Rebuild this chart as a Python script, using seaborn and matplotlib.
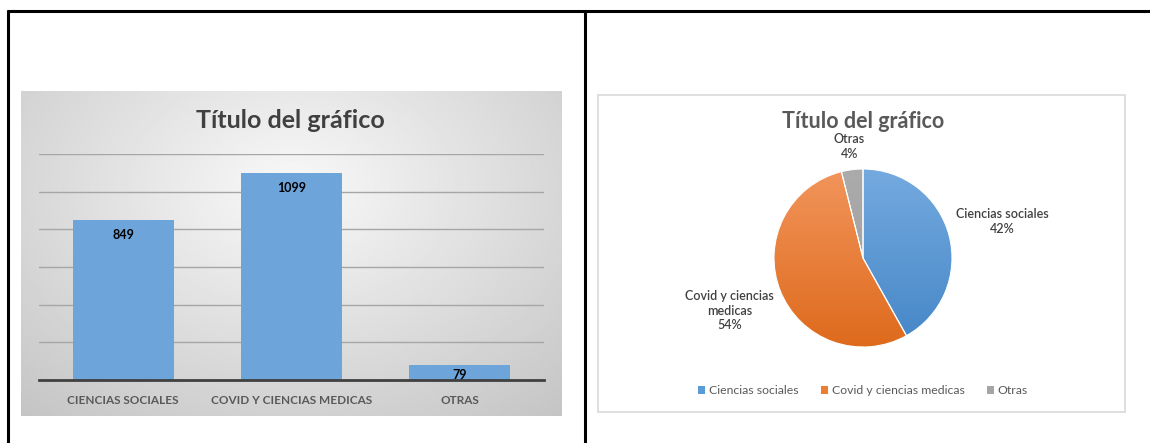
import numpy as np
import matplotlib
matplotlib.use("Agg")
import matplotlib.pyplot as plt
import seaborn as sns
import pandas as pd
from matplotlib.colors import LinearSegmentedColormap
from matplotlib.patches import Patch, Rectangle

# datos
categorias = ["CIENCIAS SOCIALES", "COVID Y CIENCIAS MEDICAS", "OTRAS"]
valores = [849, 1099, 79]
etiquetas_pie = ["Ciencias sociales", "Covid y ciencias\nmedicas", "Otras"]
leyenda_pie = ["Ciencias sociales", "Covid y ciencias medicas", "Otras"]
titulo = "Título del gráfico"
y_ticks = [200, 400, 600, 800, 1000, 1200]

colores = ["#5B9BD5", "#ED7D31", "#A5A5A5"]
gradientes = [("#74AADF", "#4586C7"), ("#F2955C", "#DE6A1C"), ("#ABABAB", "#9C9C9C")]

sns.set_theme(style="white")
plt.rcParams["font.family"] = ["Lato", "DejaVu Sans"]

W, H = 1150, 443
fig = plt.figure(figsize=(W / 100, H / 100), dpi=100)


def rect(x0, y0, x1, y1):
    return [x0 / W, 1 - y1 / H, (x1 - x0) / W, (y1 - y0) / H]


# marco de la tabla
frame = fig.add_axes([0, 0, 1, 1], zorder=-2)
frame.set_xlim(0, W)
frame.set_ylim(H, 0)
frame.axis("off")
frame.plot([7, W], [11, 11], color="black", lw=2.2, solid_capstyle="butt")
frame.plot([8, 8], [10, H], color="black", lw=2.2, solid_capstyle="butt")
frame.plot([585, 585], [10, H], color="black", lw=2.2, solid_capstyle="butt")
frame.add_patch(Rectangle((598, 95), 527, 317, facecolor="white", edgecolor="#dcdcdc", lw=1.3))

# fondo degradado del grafico de barras
bg = fig.add_axes(rect(21, 91, 562, 416), zorder=-1)
yy, xx = np.mgrid[0:1:200j, 0:1:300j]
d = np.sqrt(((xx - 0.5) / 0.75) ** 2 + ((yy - 0.3) / 0.9) ** 2)
bg.imshow(0.975 - 0.2 * np.clip(d, 0, 1.1), cmap="gray", vmin=0, vmax=1, aspect="auto")
bg.axis("off")

# barras
ax = fig.add_axes(rect(39, 154, 544, 380))
df = pd.DataFrame({"categoria": categorias, "valor": valores})
sns.barplot(data=df, x="categoria", y="valor", color="#6DA5DB", width=0.6, saturation=1,
            linewidth=0, ax=ax)
ax.set_ylim(0, 1200)
ax.set_xlim(-0.5, 2.5)
ax.patch.set_alpha(0)
ax.set_yticks(y_ticks)
ax.set_yticklabels([])
ax.yaxis.grid(True, color="#a6a6a6", lw=1)
ax.set_axisbelow(True)
for s in ["top", "right", "left"]:
    ax.spines[s].set_visible(False)
ax.spines["bottom"].set_color("#404040")
ax.spines["bottom"].set_linewidth(2)
ax.tick_params(axis="x", length=0, pad=11, labelsize=8.5, labelcolor="#595959")
ax.tick_params(axis="y", length=0)
ax.set_xlabel("")
ax.set_ylabel("")
for lbl in ax.get_xticklabels():
    lbl.set_fontweight("bold")

for i, v in enumerate(valores):
    ax.text(i, max(v - 80, 27), str(v), ha="center", va="center",
            fontsize=9, fontweight="bold", color="black")

fig.text(290 / W, 1 - 120 / H, titulo, ha="center", va="center",
         fontsize=18, fontweight="bold", color="#404040")

# pastel
pax = fig.add_axes(rect(774, 169, 952, 347))
wedges, _ = pax.pie(valores, startangle=90, counterclock=False, colors=colores,
                    wedgeprops=dict(edgecolor="white", linewidth=0.8))
grad = np.linspace(0, 1, 256).reshape(-1, 1)
for w, (c0, c1) in zip(wedges, gradientes):
    cmap = LinearSegmentedColormap.from_list("g", [c0, c1])
    im = pax.imshow(grad, extent=(-1, 1, -1, 1), cmap=cmap, aspect="auto", origin="upper", zorder=1)
    im.set_clip_path(w)
    w.set_facecolor("none")
    w.set_zorder(2)
pax.set_xlim(-1, 1)
pax.set_ylim(-1, 1)
pax.axis("off")

total = sum(valores)
ang = 90
for v, lbl, dist in zip(valores, etiquetas_pie, [1.62, 1.61, 1.26]):
    span = 360 * v / total
    mid = np.deg2rad(ang - span / 2)
    ang -= span
    pct = f"{round(100 * v / total)}%"
    pax.text(dist * np.cos(mid), dist * np.sin(mid), f"{lbl}\n{pct}", ha="center", va="center",
             fontsize=9, fontweight="semibold", color="#404040", linespacing=1.25, clip_on=False)

fig.text(863 / W, 1 - 122 / H, titulo, ha="center", va="center",
         fontsize=15.5, fontweight="bold", color="#595959")

handles = [Patch(facecolor=c, edgecolor="none") for c in colores]
fig.legend(handles, leyenda_pie, loc="center", bbox_to_anchor=(863 / W, 1 - 391 / H), ncol=3,
           frameon=False, fontsize=8.8, handlelength=0.6, handleheight=0.6, handletextpad=0.3,
           columnspacing=1.8, labelcolor="#595959")

fig.savefig("out.png", dpi=100)
